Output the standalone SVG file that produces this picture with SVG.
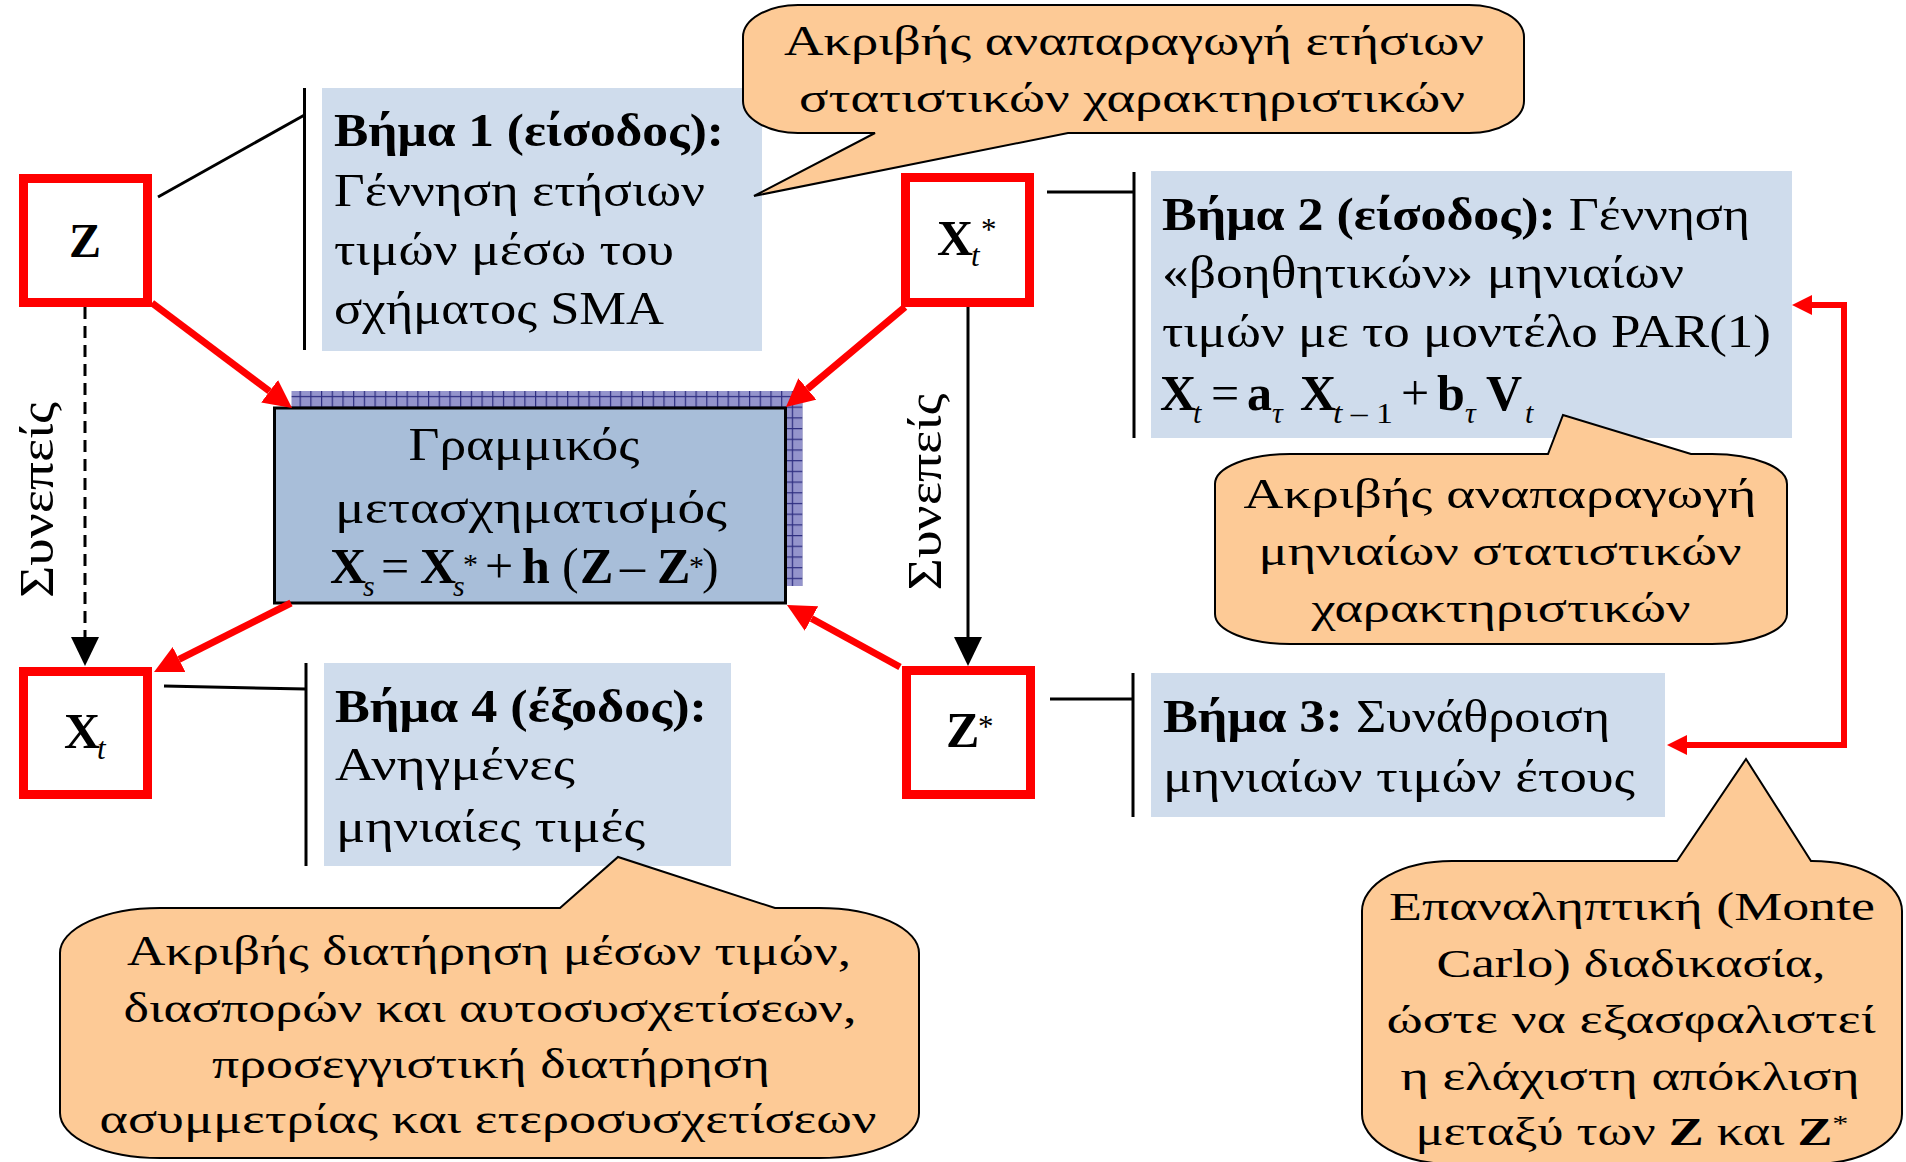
<svg xmlns="http://www.w3.org/2000/svg" width="1906" height="1162" viewBox="0 0 1906 1162">
<style>
.t{font-family:"Liberation Serif","DejaVu Serif",serif;font-size:47px;fill:#000}
.c{font-family:"Liberation Serif","DejaVu Serif",serif;font-size:42px;fill:#000;text-anchor:middle}
.f{font-family:"Liberation Serif","DejaVu Serif",serif;font-size:50px;fill:#000}
.s{font-family:"Liberation Serif","DejaVu Serif",serif;font-size:30px;fill:#000}
.v{font-family:"Liberation Serif","DejaVu Serif",serif;font-size:48px;fill:#000;text-anchor:middle}
.b{font-weight:bold}
.i{font-style:italic}
.step{fill:#CFDCEC}
.node{fill:#fff;stroke:#FF0000;stroke-width:9}
.lead{stroke:#000;stroke-width:3;fill:none}
.red{stroke:#FF0000;stroke-width:7;fill:none}
.bub{fill:#FDCA96;stroke:#000;stroke-width:2}
</style>
<defs>
<pattern id="grid" width="10.7" height="10.7" patternUnits="userSpaceOnUse">
<rect width="10.7" height="10.7" fill="#9494CC"/>
<path d="M0,0.6 H10.7 M0.6,0 V10.7" stroke="#2E2E80" stroke-width="1.2"/>
</pattern>
<marker id="ra" markerUnits="userSpaceOnUse" markerWidth="30" markerHeight="30" refX="0" refY="14" orient="auto">
<path d="M0,0 L28,14 L0,28 Z" fill="#FF0000"/>
</marker>
<marker id="rs" markerUnits="userSpaceOnUse" markerWidth="22" markerHeight="22" refX="0" refY="10" orient="auto-start-reverse">
<path d="M0,0 L20,10 L0,20 Z" fill="#FF0000"/>
</marker>
<marker id="ka" markerUnits="userSpaceOnUse" markerWidth="30" markerHeight="30" refX="0" refY="14" orient="auto">
<path d="M0,0 L29,14 L0,28 Z" fill="#000"/>
</marker>
</defs>
<rect width="1906" height="1162" fill="#fff"/>

<g id="step1">
<rect class="step" x="322" y="88" width="440" height="263"/>
<line class="lead" x1="304.5" y1="88" x2="304.5" y2="350"/>
<text class="t" x="334" y="146" textLength="390" lengthAdjust="spacingAndGlyphs"><tspan class="b">Βήμα 1 (είσοδος):</tspan></text>
<text class="t" x="334" y="206" textLength="371" lengthAdjust="spacingAndGlyphs">Γέννηση ετήσιων</text>
<text class="t" x="334" y="265" textLength="340" lengthAdjust="spacingAndGlyphs">τιμών μέσω του</text>
<text class="t" x="334" y="324" textLength="330" lengthAdjust="spacingAndGlyphs">σχήματος SMA</text>
</g>

<g id="step2">
<rect class="step" x="1151" y="171" width="641" height="267"/>
<line class="lead" x1="1134" y1="172" x2="1134" y2="438"/>
<text class="t" x="1162" y="230" textLength="588" lengthAdjust="spacingAndGlyphs"><tspan class="b">Βήμα 2 (είσοδος):</tspan> Γέννηση</text>
<text class="t" x="1162" y="288" textLength="522" lengthAdjust="spacingAndGlyphs">«βοηθητικών» μηνιαίων</text>
<text class="t" x="1162" y="347" textLength="609" lengthAdjust="spacingAndGlyphs">τιμών με το μοντέλο PAR(1)</text>
<text class="f"><tspan class="b" x="1160" y="410">X</tspan><tspan class="s i" x="1193" y="423">t</tspan><tspan x="1211" y="410">=</tspan><tspan class="b" x="1247" y="410">a</tspan><tspan class="s i" x="1272" y="423">τ</tspan><tspan class="b" x="1300" y="410">X</tspan><tspan class="s" x="1333" y="423" textLength="60" lengthAdjust="spacingAndGlyphs"><tspan class="i">t</tspan> – 1</tspan><tspan x="1401" y="410">+</tspan><tspan class="b" x="1437" y="410">b</tspan><tspan class="s i" x="1465" y="423">τ</tspan><tspan class="b" x="1486" y="410">V</tspan><tspan class="s i" x="1525" y="423">t</tspan></text>
</g>

<g id="step3">
<rect class="step" x="1151" y="673" width="514" height="144"/>
<line class="lead" x1="1133" y1="673" x2="1133" y2="817"/>
<text class="t" x="1163" y="732" textLength="447" lengthAdjust="spacingAndGlyphs"><tspan class="b">Βήμα 3:</tspan> Συνάθροιση</text>
<text class="t" x="1163" y="792" textLength="472" lengthAdjust="spacingAndGlyphs">μηνιαίων τιμών έτους</text>
</g>

<g id="step4">
<rect class="step" x="324" y="663" width="407" height="203"/>
<line class="lead" x1="306" y1="663" x2="306" y2="866"/>
<text class="t" x="335" y="722" textLength="372" lengthAdjust="spacingAndGlyphs"><tspan class="b">Βήμα 4 (έξοδος):</tspan></text>
<text class="t" x="335" y="780" textLength="240" lengthAdjust="spacingAndGlyphs">Ανηγμένες</text>
<text class="t" x="336" y="842" textLength="309" lengthAdjust="spacingAndGlyphs">μηνιαίες τιμές</text>
</g>

<g id="transform">
<rect x="291.5" y="391" width="511" height="195" fill="url(#grid)"/>
<rect x="274.5" y="408" width="511" height="195" fill="#A8BED9" stroke="#000" stroke-width="3"/>
<text class="t" x="524" y="460" text-anchor="middle" textLength="231" lengthAdjust="spacingAndGlyphs">Γραμμικός</text>
<text class="t" x="531" y="523" text-anchor="middle" textLength="392" lengthAdjust="spacingAndGlyphs">μετασχηματισμός</text>
<text class="f"><tspan class="b" x="330" y="583">X</tspan><tspan class="s i" x="363" y="596">s</tspan><tspan x="381" y="583">=</tspan><tspan class="b" x="420" y="583">X</tspan><tspan class="s i" x="453" y="596">s</tspan><tspan class="s" x="463" y="574">*</tspan><tspan x="485" y="583">+</tspan><tspan class="b" x="522" y="583">h</tspan><tspan x="562" y="583">(</tspan><tspan class="b" x="580" y="583">Z</tspan><tspan x="620" y="583">–</tspan><tspan class="b" x="657" y="583">Z</tspan><tspan class="s" x="689" y="576">*</tspan><tspan x="702" y="583">)</tspan></text>
</g>

<g id="nodeZ">
<rect class="node" x="23.5" y="178.5" width="124" height="124"/>
<text class="v b" x="85" y="257">Z</text>
</g>
<g id="nodeXtStar">
<rect class="node" x="905.5" y="177.5" width="124" height="125"/>
<text class="f"><tspan class="b" x="937" y="255">X</tspan><tspan class="i" font-size="31" x="971" y="266">t</tspan><tspan font-size="31" x="981" y="240">*</tspan></text>
</g>
<g id="nodeXt">
<rect class="node" x="23.5" y="671.5" width="124" height="123"/>
<text class="f"><tspan class="b" x="64" y="748">X</tspan><tspan class="i" font-size="31" x="97" y="759">t</tspan></text>
</g>
<g id="nodeZStar">
<rect class="node" x="906.5" y="670.5" width="124" height="124"/>
<text class="f"><tspan class="b" x="946" y="747">Z</tspan><tspan font-size="31" x="978" y="737">*</tspan></text>
</g>

<g id="connectors">
<line class="lead" x1="158" y1="197" x2="304.5" y2="115"/>
<line class="lead" x1="1047" y1="192" x2="1134" y2="192"/>
<line class="lead" x1="1050" y1="699" x2="1133" y2="699"/>
<line class="lead" x1="164" y1="686" x2="306" y2="689"/>
<line x1="85" y1="307" x2="85" y2="637" stroke="#000" stroke-width="3" stroke-dasharray="12,7" marker-end="url(#ka)"/>
<line x1="968" y1="307" x2="968" y2="637" stroke="#000" stroke-width="3" marker-end="url(#ka)"/>
<line class="red" x1="152" y1="303" x2="269.6" y2="391.2" marker-end="url(#ra)"/>
<line class="red" x1="905" y1="307" x2="807.4" y2="389" marker-end="url(#ra)"/>
<line class="red" x1="291" y1="603" x2="179" y2="659.4" marker-end="url(#ra)"/>
<line class="red" x1="900" y1="667" x2="811.5" y2="618.5" marker-end="url(#ra)"/>
<path d="M1687,745 H1844 V305 H1812" fill="none" stroke="#FF0000" stroke-width="6" marker-start="url(#rs)" marker-end="url(#rs)"/>
<text class="v" transform="translate(53,500) rotate(-90)" textLength="196" lengthAdjust="spacingAndGlyphs">Συνεπείς</text>
<text class="v" transform="translate(941,492) rotate(-90)" textLength="197" lengthAdjust="spacingAndGlyphs">Συνεπείς</text>
</g>

<g id="callout1">
<path class="bub" d="M798,5 H1469 A55,32 0 0 1 1524,37 V101 A55,32 0 0 1 1469,133 H1068 L754,196 L875,133 H798 A55,32 0 0 1 743,101 V37 A55,32 0 0 1 798,5 Z"/>
<text class="c" x="1134" y="55" textLength="700" lengthAdjust="spacingAndGlyphs">Ακριβής αναπαραγωγή ετήσιων</text>
<text class="c" x="1132" y="112" textLength="666" lengthAdjust="spacingAndGlyphs">στατιστικών χαρακτηριστικών</text>
</g>

<g id="callout2">
<path class="bub" d="M1290,454 H1548 L1563,415 L1691,454 H1712 A75,30 0 0 1 1787,484 V614 A75,30 0 0 1 1712,644 H1290 A75,30 0 0 1 1215,614 V484 A75,30 0 0 1 1290,454 Z"/>
<text class="c" x="1500" y="508" textLength="513" lengthAdjust="spacingAndGlyphs">Ακριβής αναπαραγωγή</text>
<text class="c" x="1500" y="565" textLength="483" lengthAdjust="spacingAndGlyphs">μηνιαίων στατιστικών</text>
<text class="c" x="1501" y="622" textLength="379" lengthAdjust="spacingAndGlyphs">χαρακτηριστικών</text>
</g>

<g id="callout3">
<path class="bub" d="M160,908 H560 L618,857 L775,908 H819 A100,45 0 0 1 919,953 V1113 A100,45 0 0 1 819,1158 H160 A100,45 0 0 1 60,1113 V953 A100,45 0 0 1 160,908 Z"/>
<text class="c" x="489" y="965" textLength="724" lengthAdjust="spacingAndGlyphs">Ακριβής διατήρηση μέσων τιμών,</text>
<text class="c" x="490" y="1022" textLength="733" lengthAdjust="spacingAndGlyphs">διασπορών και αυτοσυσχετίσεων,</text>
<text class="c" x="491" y="1078" textLength="558" lengthAdjust="spacingAndGlyphs">προσεγγιστική διατήρηση</text>
<text class="c" x="488" y="1133" textLength="777" lengthAdjust="spacingAndGlyphs">ασυμμετρίας και ετεροσυσχετίσεων</text>
</g>

<g id="callout4">
<path class="bub" d="M1452,861 H1677 L1746,759 L1811,861 H1812 A90,50 0 0 1 1902,911 V1114 A90,50 0 0 1 1812,1164 H1452 A90,50 0 0 1 1362,1114 V911 A90,50 0 0 1 1452,861 Z"/>
<text class="c" x="1632" y="920" style="font-size:39px" textLength="486" lengthAdjust="spacingAndGlyphs">Επαναληπτική (Monte</text>
<text class="c" x="1631" y="977" style="font-size:39px" textLength="389" lengthAdjust="spacingAndGlyphs">Carlo) διαδικασία,</text>
<text class="c" x="1631" y="1033" style="font-size:39px" textLength="489" lengthAdjust="spacingAndGlyphs">ώστε να εξασφαλιστεί</text>
<text class="c" x="1630" y="1090" style="font-size:39px" textLength="459" lengthAdjust="spacingAndGlyphs">η ελάχιστη απόκλιση</text>
<text class="c" x="1632" y="1145" style="font-size:39px" textLength="433" lengthAdjust="spacingAndGlyphs">μεταξύ των <tspan class="b">Z</tspan> και <tspan class="b">Z</tspan><tspan font-size="24" dy="-14">*</tspan></text>
</g>
</svg>
